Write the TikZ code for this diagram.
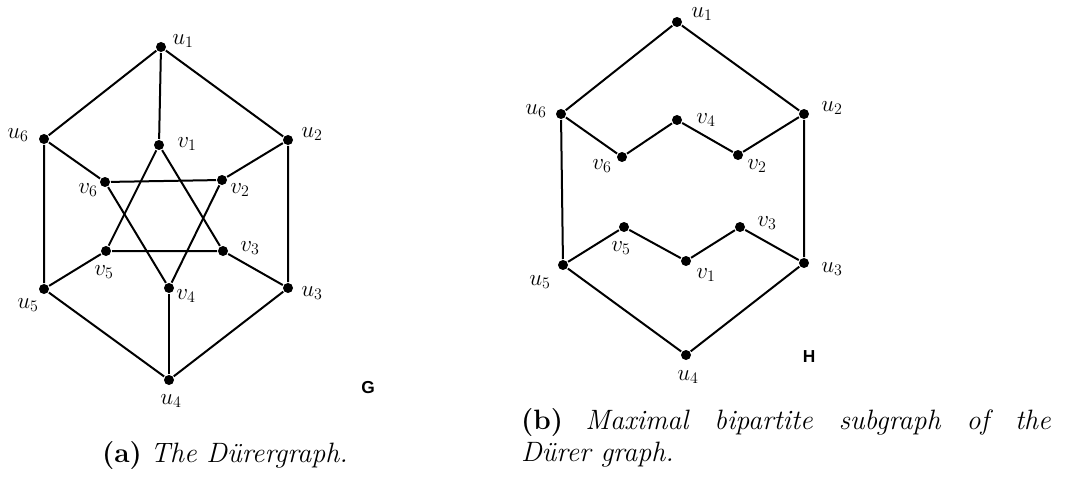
\documentclass[tikz,border=0pt]{standalone}
\usepackage{tikz,amsmath,amssymb}
\usepackage{fontspec}
\newfontfamily\graphname{Liberation Sans}

\begin{document}
\begin{tikzpicture}[x=0.75pt,y=-0.75pt,line width=1.5pt,
  vtx/.style={circle,fill=black,inner sep=0pt,minimum size=7.5pt},
  lbl/.style={inner sep=0pt,font=\fontsize{17}{20}\selectfont},
  gname/.style={inner sep=0pt,font=\graphname\bfseries\fontsize{13}{15}\selectfont}]
\path[use as bounding box] (0,0) rectangle (1066,481);
% graph G
\node[vtx] (g-u1) at (161,47) {};
\node[vtx] (g-u2) at (288,140) {};
\node[vtx] (g-u3) at (288,288) {};
\node[vtx] (g-u4) at (169,380) {};
\node[vtx] (g-u5) at (44,289) {};
\node[vtx] (g-u6) at (44,139) {};
\node[vtx] (g-v1) at (159,145) {};
\node[vtx] (g-v2) at (222,180) {};
\node[vtx] (g-v3) at (223,251) {};
\node[vtx] (g-v4) at (169,288) {};
\node[vtx] (g-v5) at (106,251) {};
\node[vtx] (g-v6) at (105,182) {};
\draw (g-u1) -- (g-u2) -- (g-u3) -- (g-u4) -- (g-u5) -- (g-u6) -- (g-u1);
\draw (g-u1) -- (g-v1);
\draw (g-u2) -- (g-v2);
\draw (g-u3) -- (g-v3);
\draw (g-u4) -- (g-v4);
\draw (g-u5) -- (g-v5);
\draw (g-u6) -- (g-v6);
\draw (g-v1) -- (g-v3) -- (g-v5) -- (g-v1);
\draw (g-v2) -- (g-v4) -- (g-v6) -- (g-v2);
\node[lbl] (g-lu1) at (183,41) {$u_1$};
\node[lbl] (g-lu2) at (312,134) {$u_2$};
\node[lbl] (g-lu3) at (312,293) {$u_3$};
\node[lbl] (g-lu4) at (171,401) {$u_4$};
\node[lbl] (g-lu5) at (28,305) {$u_5$};
\node[lbl] (g-lu6) at (18,135) {$u_6$};
\node[lbl] (g-lv1) at (187,144) {$v_1$};
\node[lbl] (g-lv2) at (240,190) {$v_2$};
\node[lbl] (g-lv3) at (250,248) {$v_3$};
\node[lbl] (g-lv4) at (186,296) {$v_4$};
\node[lbl] (g-lv5) at (104,272) {$v_5$};
\node[lbl] (g-lv6) at (88,190) {$v_6$};
\node[gname] (g-name) at (368,388) {G};
% graph H
\node[vtx] (h-u1) at (677,22) {};
\node[vtx] (h-u2) at (804,114) {};
\node[vtx] (h-u3) at (804,263) {};
\node[vtx] (h-u4) at (686,355) {};
\node[vtx] (h-u5) at (563,265) {};
\node[vtx] (h-u6) at (561,114) {};
\node[vtx] (h-v1) at (686,261) {};
\node[vtx] (h-v2) at (738,155) {};
\node[vtx] (h-v3) at (740,227) {};
\node[vtx] (h-v4) at (677,120) {};
\node[vtx] (h-v5) at (624,227) {};
\node[vtx] (h-v6) at (622,157) {};
\draw (h-u5) -- (h-u6) -- (h-u1) -- (h-u2) -- (h-u3) -- (h-u4) -- (h-u5);
\draw (h-u6) -- (h-v6) -- (h-v4) -- (h-v2) -- (h-u2);
\draw (h-u5) -- (h-v5) -- (h-v1) -- (h-v3) -- (h-u3);
\node[lbl] (h-lu1) at (702,14) {$u_1$};
\node[lbl] (h-lu2) at (832,108) {$u_2$};
\node[lbl] (h-lu3) at (832,269) {$u_3$};
\node[lbl] (h-lu4) at (688,377) {$u_4$};
\node[lbl] (h-lu5) at (540,282) {$u_5$};
\node[lbl] (h-lu6) at (536,111) {$u_6$};
\node[lbl] (h-lv1) at (706,275) {$v_1$};
\node[lbl] (h-lv2) at (757,166) {$v_2$};
\node[lbl] (h-lv3) at (767,223) {$v_3$};
\node[lbl] (h-lv4) at (706,120) {$v_4$};
\node[lbl] (h-lv5) at (621,248) {$v_5$};
\node[lbl] (h-lv6) at (602,166) {$v_6$};
\node[gname] (h-name) at (809,357) {H};
% captions
\node[anchor=base,inner sep=0pt,font=\fontsize{21}{24}\selectfont] (cap-a) at (225,462) {\textbf{(a)} \textit{The D\"urergraph.}};
\node[anchor=base west,inner sep=0pt,text width=530*0.75pt,align=justify,font=\fontsize{21}{24}\selectfont] (cap-b) at (520,429) {\textbf{(b)} \textit{Maximal bipartite subgraph of the}\linebreak \textit{D\"urer graph.}};
\end{tikzpicture}
\end{document}
